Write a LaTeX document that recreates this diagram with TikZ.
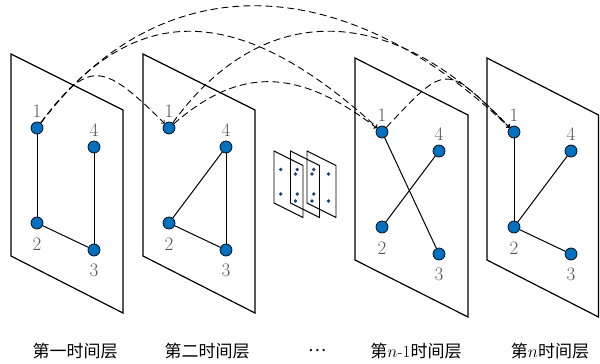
\documentclass[tikz,border=0pt]{standalone}
\usepackage{fontspec}
\newfontfamily\cjk{Noto Sans CJK SC}
\usetikzlibrary{positioning}
\definecolor{nodeblue}{HTML}{0070C0}
\definecolor{lblgray}{HTML}{555555}
\definecolor{dotblue}{HTML}{1F3F6F}
\begin{document}
\begin{tikzpicture}[x=1pt,y=-1pt,
  panel/.style={draw=black,line width=1.2pt},
  minipanel/.style={draw=black,line width=0.9pt},
  vtx/.style={circle,fill=nodeblue,draw=black,line width=0.7pt,minimum size=12pt,inner sep=0pt},
  edge/.style={line width=1pt},
  arcline/.style={dash pattern=on 7pt off 4pt,line width=0.9pt,->},
  lbl/.style={text=lblgray,font=\fontsize{19}{19}\selectfont,inner sep=0pt},
  captxt/.style={font=\fontsize{17}{17}\selectfont,text=black,inner sep=0pt}
]
\useasboundingbox (0,0) rectangle (600,364);

% big panels
\draw[panel] (11,54) -- (123,110) -- (123,313) -- (11,256) -- cycle;
\draw[panel] (143,54) -- (255,110) -- (255,313) -- (143,256) -- cycle;
\draw[panel] (355,58) -- (468,115) -- (468,317) -- (355,260) -- cycle;
\draw[panel] (487,58) -- (598.5,115) -- (598.5,317) -- (487,260) -- cycle;

% mini panels with dots
\foreach \xo in {274,290.5,307}{
  \draw[minipanel] (\xo,151) -- (\xo+29,165.5) -- (\xo+29,217.5) -- (\xo,203) -- cycle;
  \fill[dotblue] (\xo+6.7,169.5) circle (1.8pt);
  \fill[dotblue] (\xo+21.5,174) circle (1.8pt);
  \fill[dotblue] (\xo+6.7,194) circle (1.8pt);
  \fill[dotblue] (\xo+21.5,201) circle (1.8pt);
}

% vertices
\node[vtx] (a1) at (37,128) {};
\node[vtx] (a4) at (94,147) {};
\node[vtx] (a2) at (37,223) {};
\node[vtx] (a3) at (94,250) {};
\node[vtx] (b1) at (169,128) {};
\node[vtx] (b4) at (226,147) {};
\node[vtx] (b2) at (169,223) {};
\node[vtx] (b3) at (226,250) {};
\node[vtx] (c1) at (382,132) {};
\node[vtx] (c4) at (439,151) {};
\node[vtx] (c2) at (382,227) {};
\node[vtx] (c3) at (439,254) {};
\node[vtx] (d1) at (514,132) {};
\node[vtx] (d4) at (571,151) {};
\node[vtx] (d2) at (514,227) {};
\node[vtx] (d3) at (571,254) {};

% edges
\draw[edge] (a1) -- (a2);
\draw[edge] (a2) -- (a3);
\draw[edge] (a4) -- (a3);
\draw[edge] (b4) -- (b2);
\draw[edge] (b2) -- (b3);
\draw[edge] (b4) -- (b3);
\draw[edge] (c1) -- (c3);
\draw[edge] (c4) -- (c2);
\draw[edge] (d1) -- (d2);
\draw[edge] (d4) -- (d2);
\draw[edge] (d2) -- (d3);

% vertex labels
\foreach \p in {a,b,c,d}{
  \node[lbl,above=4pt of \p1] (t\p1) {1};
  \node[lbl,above=3.5pt of \p4] (t\p4) {4};
  \node[lbl,below=8pt of \p2] (t\p2) {2};
  \node[lbl,below=7.5pt of \p3] (t\p3) {3};
}

% dashed arcs
\draw[arcline] (a1) .. controls (88,60) and (101,60) .. (b1);
\draw[arcline] (a1) .. controls (133,0) and (237,0) .. (c1);
\draw[arcline] (a1) .. controls (159,-34) and (340,-34) .. (d1);
\draw[arcline] (b1) .. controls (239,67) and (297,67) .. (c1);
\draw[arcline] (b1) .. controls (262,0) and (390,0) .. (d1);
\draw[arcline] (c1) .. controls (447,63) and (445,63) .. (d1);

% captions
\node[captxt] (cap1) at (75,351) {\cjk 第一时间层};
\node[captxt] (cap2) at (207,351) {\cjk 第二时间层};
\node[captxt] (cap3) at (317,351) {\cjk …};
\node[captxt] (cap4) at (416,351) {{\cjk 第}$n$-1{\cjk 时间层}};
\node[captxt] (cap5) at (550,351) {{\cjk 第}$n${\cjk 时间层}};
\end{tikzpicture}
\end{document}
